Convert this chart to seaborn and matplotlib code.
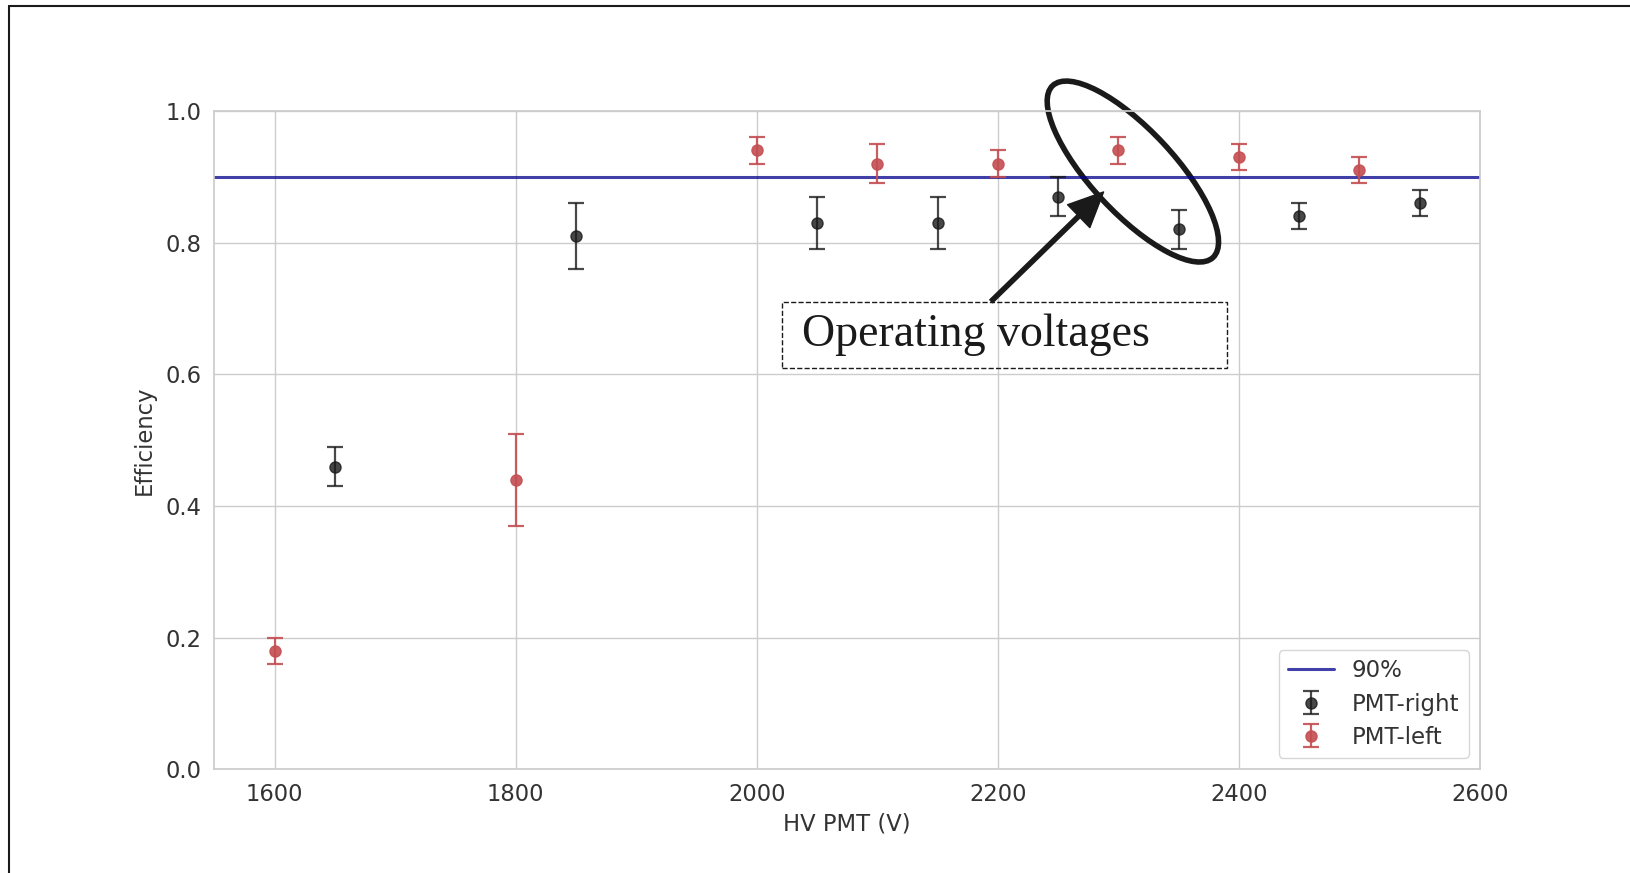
import matplotlib
matplotlib.use("Agg")
import matplotlib.pyplot as plt
import seaborn as sns
from matplotlib.lines import Line2D
from matplotlib.patches import Ellipse, Rectangle
from matplotlib.transforms import ScaledTranslation

# measured efficiencies
hv_right = [1650, 1850, 2050, 2150, 2250, 2350, 2450, 2550]
eff_right = [0.46, 0.81, 0.83, 0.83, 0.87, 0.82, 0.84, 0.86]
err_right = [0.03, 0.05, 0.04, 0.04, 0.03, 0.03, 0.02, 0.02]

hv_left = [1600, 1800, 2000, 2100, 2200, 2300, 2400, 2500]
eff_left = [0.18, 0.44, 0.94, 0.92, 0.92, 0.94, 0.93, 0.91]
err_left = [0.02, 0.07, 0.02, 0.03, 0.02, 0.02, 0.02, 0.02]

threshold = 0.9

# plot settings
sns.set_theme(style="whitegrid", color_codes=True)
plt.rcParams["font.family"] = ["DejaVu Sans"]
fs = 16.3

fig = plt.figure(figsize=(16.31, 8.73), dpi=100)
ax = fig.add_axes([0.1315, 0.1186, 0.9074 - 0.1315, 0.8729 - 0.1186])

ax.axhline(threshold, color="darkblue", alpha=0.75, lw=2.2, label="90%")
ax.errorbar(hv_right, eff_right, yerr=err_right, fmt="o", color="k", alpha=0.8,
            markersize=8, capsize=5.5, elinewidth=1.6, capthick=1.6,
            label="PMT-right")
ax.errorbar(hv_left, eff_left, yerr=err_left, fmt="o", color="r", alpha=0.9,
            markersize=8, capsize=5.5, elinewidth=1.6, capthick=1.6,
            label="PMT-left")

ax.set_xlim(1550, 2600)
ax.set_ylim(0, 1.0)
ax.set_xticks([1600, 1800, 2000, 2200, 2400, 2600])
ax.set_yticks([0.0, 0.2, 0.4, 0.6, 0.8, 1.0])
ax.tick_params(labelsize=fs, labelcolor="0.2")
ax.set_xlabel("HV PMT (V)", fontsize=fs, labelpad=5, color="0.2")
ax.set_ylabel("Efficiency", fontsize=fs, labelpad=7, color="0.2")
leg = ax.legend(loc="lower right", fontsize=16.5, labelspacing=0.45,
                handlelength=2.0)
for t in leg.get_texts():
    t.set_color("0.2")

# annotation: ellipse round the operating points
trans = fig.dpi_scale_trans + ScaledTranslation(2312, 0.908, ax.transData)
ax.add_patch(Ellipse((0, 0), 2.35, 0.83, angle=-47, transform=trans,
                     fill=False, edgecolor="k", lw=4, clip_on=False))

ax.add_patch(Rectangle((2021, 0.61), 369, 0.10, fill=False, edgecolor="k",
                       ls="--", lw=1))
ax.text(2037.6, 0.643, "Operating voltages", family="Liberation Serif",
        fontsize=33, color="k", va="baseline")
ax.annotate("", xy=(2287.7, 0.877), xytext=(2194.5, 0.711),
            arrowprops=dict(facecolor="k", edgecolor="k", width=3,
                            headwidth=23, headlength=25, shrink=0))

# frame lines at the figure edge
fig.add_artist(Line2D([0.0057, 1.0], [0.9935, 0.9935], transform=fig.transFigure,
                      color="k", lw=1.5))
fig.add_artist(Line2D([0.0057, 0.0057], [0.0, 0.9935], transform=fig.transFigure,
                      color="k", lw=1.5))

fig.savefig("out.png", dpi=100)
